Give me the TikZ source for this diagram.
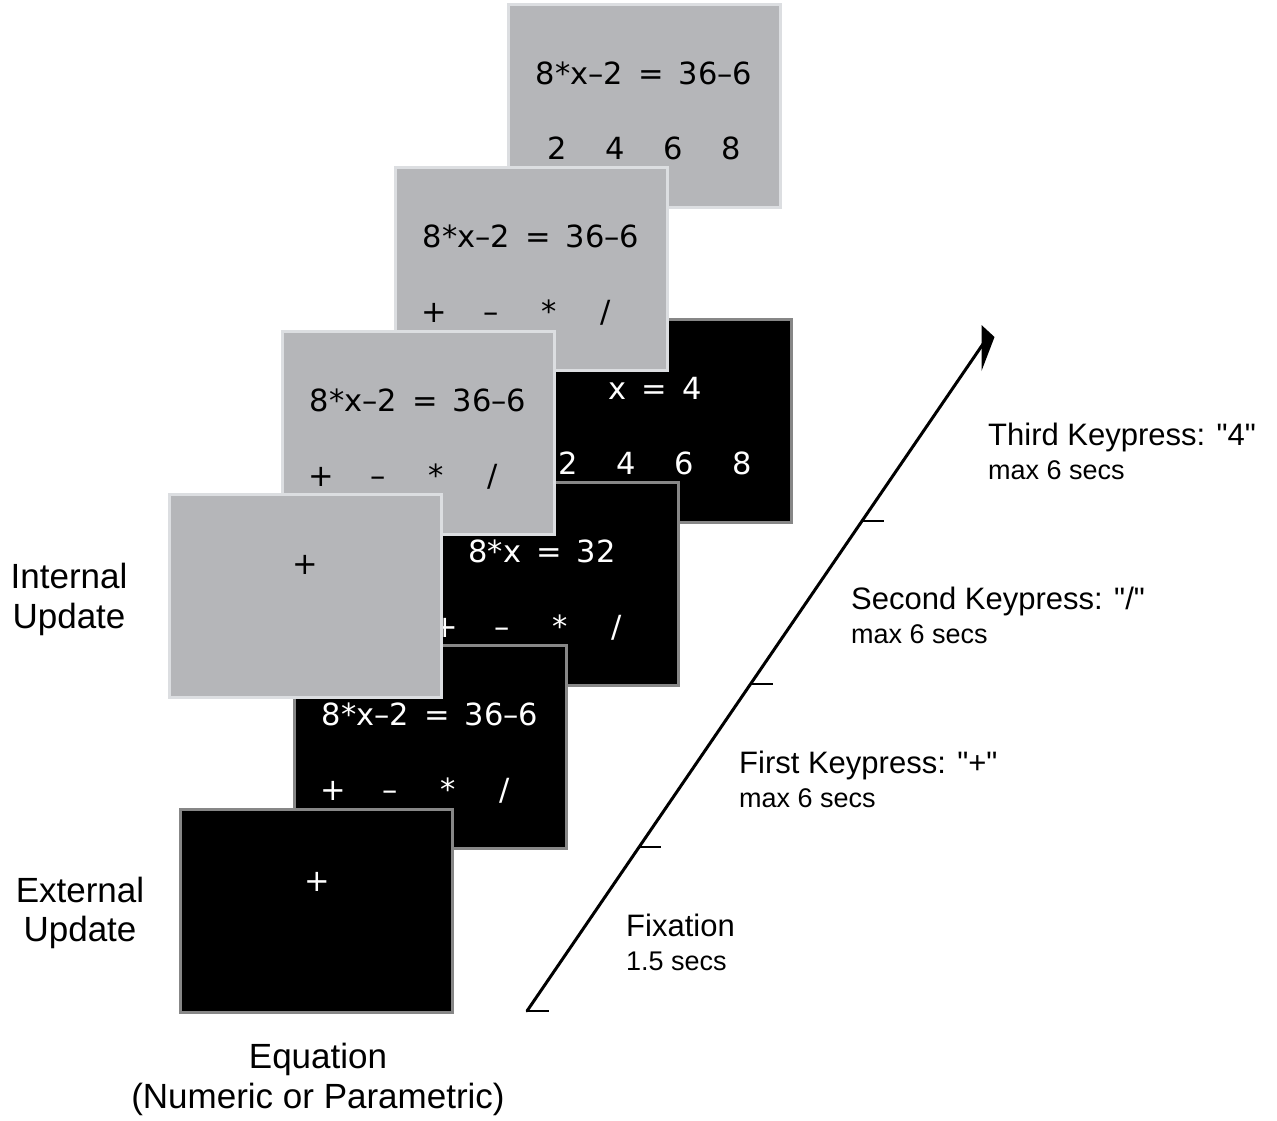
\documentclass[tikz,border=0pt]{standalone}
\usepackage{fontspec}
\setmainfont{Liberation Sans}
\newfontfamily\boxfont{DejaVu Sans}
\usetikzlibrary{calc}
\definecolor{scrgray}{RGB}{181,182,185}
\definecolor{scrgrayedge}{RGB}{220,222,225}
\definecolor{scrblackedge}{RGB}{135,135,135}
\newcommand\myeqgap{\hspace{15pt}}
\newcommand\myoprow[3]{%
  \node[#3] (#1o1) at ([shift={(39,155)}]#2.north west) {+};
  \node[#3] (#1o2) at ([shift={(96,155)}]#2.north west) {–};
  \node[#3] (#1o3) at ([shift={(154,155)}]#2.north west) {*};
  \node[#3] (#1o4) at ([shift={(211,155)}]#2.north west) {/};}
\newcommand\mydigrow[3]{%
  \node[#3] (#1d1) at ([shift={(49,155)}]#2.north west) {2};
  \node[#3] (#1d2) at ([shift={(107,155)}]#2.north west) {4};
  \node[#3] (#1d3) at ([shift={(165,155)}]#2.north west) {6};
  \node[#3] (#1d4) at ([shift={(223,155)}]#2.north west) {8};}
\begin{document}
\begin{tikzpicture}[x=1pt,y=-1pt,
  screen/.style={anchor=north west, minimum width=272pt, minimum height=203pt,
    inner sep=0pt, outer sep=0pt, line width=3pt},
  grayscreen/.style={screen, fill=scrgray, draw=scrgrayedge},
  blackscreen/.style={screen, fill=black, draw=scrblackedge},
  graytxt/.style={font=\boxfont\fontsize{30.5}{36}\selectfont, text=black, inner sep=0pt, anchor=base},
  blacktxt/.style={graytxt, text=white},
  sidelbl/.style={font=\fontsize{35}{40}\selectfont, inner sep=0pt, anchor=base},
  steplbl/.style={font=\fontsize{31}{37}\selectfont, inner sep=0pt, anchor=base west},
  sublbl/.style={font=\fontsize{27}{32}\selectfont, inner sep=0pt, anchor=base west},
  timeline/.style={line width=3pt, line cap=round},
  tickline/.style={line width=2pt}
]
\fill[white] (0,0) rectangle (1277,1120);
\useasboundingbox (0,0) rectangle (1277,1120);

% top gray (third keypress, internal)
\node[grayscreen] (g3) at (508,4) {};
\node[graytxt] (g3eq) at ([shift={(136,80)}]g3.north west) {8*x–2\myeqgap=\myeqgap36–6};
\mydigrow{g3}{g3}{graytxt}

% black x = 4
\node[blackscreen] (b3) at (519,319) {};
\node[blacktxt] (b3eq) at ([shift={(136,80)}]b3.north west) {x\myeqgap=\myeqgap4};
\mydigrow{b3}{b3}{blacktxt}

% gray second keypress
\node[grayscreen] (g2) at (395,167) {};
\node[graytxt] (g2eq) at ([shift={(136,80)}]g2.north west) {8*x–2\myeqgap=\myeqgap36–6};
\myoprow{g2}{g2}{graytxt}

% black 8*x = 32
\node[blackscreen] (b2) at (406,482) {};
\node[blacktxt] (b2eq) at ([shift={(136,80)}]b2.north west) {8*x\myeqgap=\myeqgap32};
\myoprow{b2}{b2}{blacktxt}

% gray first keypress
\node[grayscreen] (g1) at (282,331) {};
\node[graytxt] (g1eq) at ([shift={(136,80)}]g1.north west) {8*x–2\myeqgap=\myeqgap36–6};
\myoprow{g1}{g1}{graytxt}

% black first keypress
\node[blackscreen] (b1) at (294,645) {};
\node[blacktxt] (b1eq) at ([shift={(136,80)}]b1.north west) {8*x–2\myeqgap=\myeqgap36–6};
\myoprow{b1}{b1}{blacktxt}

% gray fixation
\node[grayscreen] (g0) at (169,494) {};
\node[graytxt] (g0fix) at ([shift={(136,80)}]g0.north west) {+};

% black fixation
\node[blackscreen] (b0) at (180,809) {};
\node[blacktxt] (b0fix) at ([shift={(137,82)}]b0.north west) {+};

% left labels
\node[sidelbl] (int1) at (69,588) {Internal};
\node[sidelbl] (int2) at (69,628) {Update};
\node[sidelbl] (ext1) at (80,902) {External};
\node[sidelbl] (ext2) at (80,941) {Update};
\node[sidelbl] (eqn1) at (318,1068) {Equation};
\node[sidelbl] (eqn2) at (318,1108) {(Numeric or Parametric)};

% time line
\coordinate (tlstart) at (527,1011);
\coordinate (tlend) at (983,344);
\coordinate (tk1) at (639,847);
\coordinate (tk2) at (751,684);
\coordinate (tk3) at (862,521);
\coordinate (hd1) at (981.5,325);
\coordinate (hd2) at (994.5,337);
\coordinate (hd3) at (981.5,371);
\draw[timeline] (tlstart) -- (tlend);
\fill (hd1) -- (hd2) -- (hd3) -- cycle;
\draw[tickline] (tlstart) -- ++(22,0);
\draw[tickline] (tk1) -- ++(22,0);
\draw[tickline] (tk2) -- ++(22,0);
\draw[tickline] (tk3) -- ++(22,0);

% step labels
\node[steplbl] (fixa) at (626,936) {Fixation};
\node[sublbl] (fixb) at (626,970) {1.5 secs};
\node[steplbl] (k1a) at (739,773) {First Keypress: \textquotedbl+\textquotedbl};
\node[sublbl] (k1b) at (739,807) {max 6 secs};
\node[steplbl] (k2a) at (851,609) {Second Keypress: \textquotedbl/\textquotedbl};
\node[sublbl] (k2b) at (851,643) {max 6 secs};
\node[steplbl] (k3a) at (988,445) {Third Keypress: \textquotedbl4\textquotedbl};
\node[sublbl] (k3b) at (988,479) {max 6 secs};
\end{tikzpicture}
\end{document}
